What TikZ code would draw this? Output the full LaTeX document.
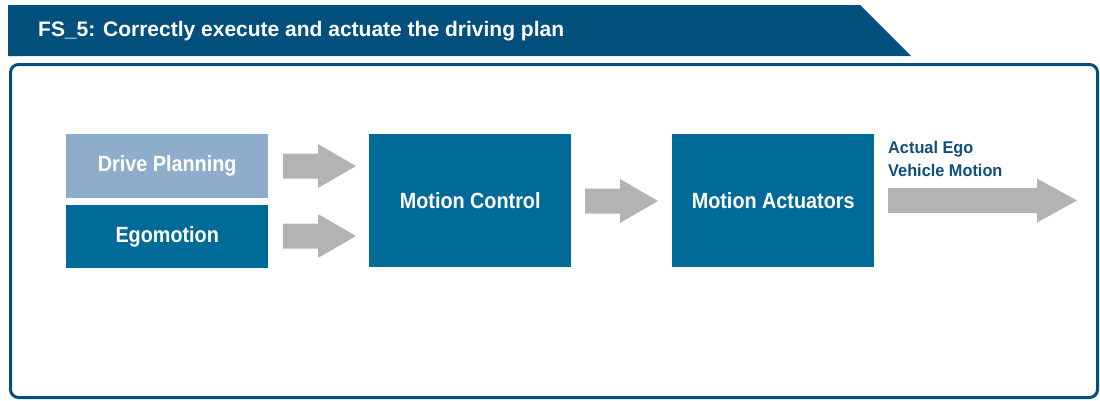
\documentclass[tikz,border=0pt]{standalone}
\usepackage{fontspec}
\setmainfont{Liberation Sans}
\newfontfamily\condA{Liberation Sans}[FakeStretch=0.9]
\newfontfamily\condB{Liberation Sans}[FakeStretch=0.96]
\usetikzlibrary{positioning}
\definecolor{hdr}{HTML}{03507C}
\definecolor{boxdark}{HTML}{006A99}
\definecolor{boxlight}{HTML}{8EADCB}
\definecolor{arrowgray}{HTML}{B3B3B3}
\definecolor{lbl}{HTML}{0F4F7A}
\tikzset{
  block/.style={fill=boxdark, text=white, font=\condA\bfseries\fontsize{22}{26}\selectfont, inner sep=0pt, anchor=north west},
  fatarrow/.style={fill=arrowgray, draw=none},
}
\newcommand{\fatarr}[4]{% x0, xhead, xtip, yc
  \fill[fatarrow] (#1,#4-12.5) -- (#2,#4-12.5) -- (#2,#4-22) -- (#3,#4) -- (#2,#4+22) -- (#2,#4+12.5) -- (#1,#4+12.5) -- cycle;}
\begin{document}
\begin{tikzpicture}[x=1pt,y=-1pt]
\useasboundingbox (0,0) rectangle (1100,400);
% header
\fill[hdr] (8,5) -- (860,5) -- (911,56) -- (8,56) -- cycle;
\node[anchor=base west, text=white, font=\bfseries\fontsize{21}{25}\selectfont, inner sep=0pt] (title) at (38,36) {FS\_5: Correctly execute and actuate the driving plan};
% frame
\draw[hdr, line width=3pt, rounded corners=8pt] (10.5,64.5) rectangle (1097.5,397.5);
% blocks
\node[block, fill=boxlight, minimum width=202pt, minimum height=64pt] (dp) at (66,134) {Drive Planning};
\node[block, minimum width=202pt, minimum height=63pt] (ego) at (66,205) {Egomotion};
\node[block, minimum width=202pt, minimum height=133pt] (mc) at (369,134) {Motion Control};
\node[block, minimum width=202pt, minimum height=133pt] (ma) at (672,134) {Motion Actuators};
% arrows
\fatarr{283}{318}{356}{166}
\fatarr{283}{318}{356}{236}
\fatarr{585}{620}{658}{201}
\fatarr{888}{1037}{1077}{200.5}
% label
\node[anchor=base west, text=lbl, font=\condB\bfseries\fontsize{17}{23.5}\selectfont, align=left, inner sep=0pt] (lab) at (888,176.5) {Actual Ego\\Vehicle Motion};
\end{tikzpicture}
\end{document}
